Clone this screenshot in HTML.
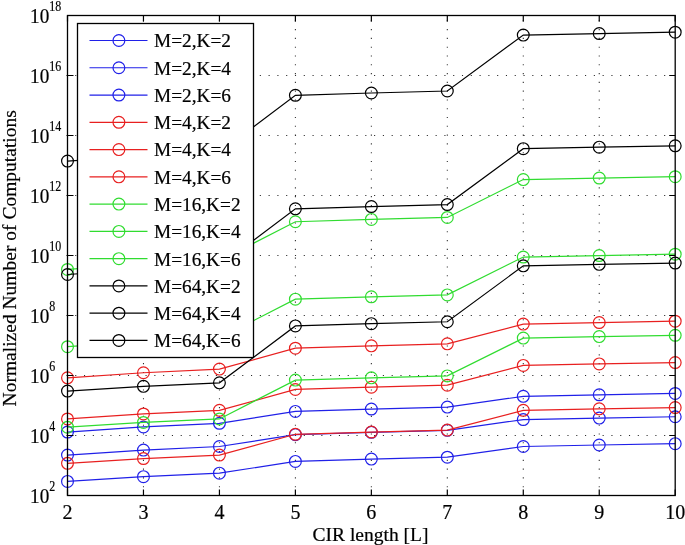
<!DOCTYPE html>
<html><head><meta charset="utf-8"><style>html,body{margin:0;padding:0;background:#fff;}svg{display:block;will-change:transform;}</style></head>
<body>
<svg width="685" height="545" viewBox="0 0 685 545">
<rect width="685" height="545" fill="#fff"/>
<path d="M143.46 496.05V15M219.43 496.05V15M295.39 496.05V15M371.35 496.05V15M447.31 496.05V15M523.28 496.05V15M599.24 496.05V15M66.41 75.5H674.7M66.41 135.5H674.7M66.41 195.5H674.7M66.41 255.5H674.7M66.41 315.5H674.7M66.41 375.5H674.7M66.41 435.5H674.7" stroke="#2a2a2a" stroke-width="1.05" stroke-dasharray="1.1 7.69" fill="none"/>
<path d="M67.50 481.39 L143.46 476.63 L219.43 473.16 L295.39 461.38 L371.35 459.12 L447.31 457.19 L523.28 446.48 L599.24 444.99 L675.20 443.66" stroke="#2020e8" stroke-width="1.2" fill="none"/>
<circle cx="67.50" cy="481.39" r="5.9" stroke="#2020e8" stroke-width="1.2" fill="none"/>
<circle cx="143.46" cy="476.63" r="5.9" stroke="#2020e8" stroke-width="1.2" fill="none"/>
<circle cx="219.43" cy="473.16" r="5.9" stroke="#2020e8" stroke-width="1.2" fill="none"/>
<circle cx="295.39" cy="461.38" r="5.9" stroke="#2020e8" stroke-width="1.2" fill="none"/>
<circle cx="371.35" cy="459.12" r="5.9" stroke="#2020e8" stroke-width="1.2" fill="none"/>
<circle cx="447.31" cy="457.19" r="5.9" stroke="#2020e8" stroke-width="1.2" fill="none"/>
<circle cx="523.28" cy="446.48" r="5.9" stroke="#2020e8" stroke-width="1.2" fill="none"/>
<circle cx="599.24" cy="444.99" r="5.9" stroke="#2020e8" stroke-width="1.2" fill="none"/>
<circle cx="675.20" cy="443.66" r="5.9" stroke="#2020e8" stroke-width="1.2" fill="none"/>
<path d="M67.50 455.09 L143.46 450.09 L219.43 446.48 L295.39 434.63 L371.35 432.31 L447.31 430.34 L523.28 419.60 L599.24 418.09 L675.20 416.73" stroke="#2020e8" stroke-width="1.2" fill="none"/>
<circle cx="67.50" cy="455.09" r="5.9" stroke="#2020e8" stroke-width="1.2" fill="none"/>
<circle cx="143.46" cy="450.09" r="5.9" stroke="#2020e8" stroke-width="1.2" fill="none"/>
<circle cx="219.43" cy="446.48" r="5.9" stroke="#2020e8" stroke-width="1.2" fill="none"/>
<circle cx="295.39" cy="434.63" r="5.9" stroke="#2020e8" stroke-width="1.2" fill="none"/>
<circle cx="371.35" cy="432.31" r="5.9" stroke="#2020e8" stroke-width="1.2" fill="none"/>
<circle cx="447.31" cy="430.34" r="5.9" stroke="#2020e8" stroke-width="1.2" fill="none"/>
<circle cx="523.28" cy="419.60" r="5.9" stroke="#2020e8" stroke-width="1.2" fill="none"/>
<circle cx="599.24" cy="418.09" r="5.9" stroke="#2020e8" stroke-width="1.2" fill="none"/>
<circle cx="675.20" cy="416.73" r="5.9" stroke="#2020e8" stroke-width="1.2" fill="none"/>
<path d="M67.50 432.03 L143.46 426.93 L219.43 423.28 L295.39 411.39 L371.35 409.06 L447.31 407.08 L523.28 396.33 L599.24 394.81 L675.20 393.45" stroke="#2020e8" stroke-width="1.2" fill="none"/>
<circle cx="67.50" cy="432.03" r="5.9" stroke="#2020e8" stroke-width="1.2" fill="none"/>
<circle cx="143.46" cy="426.93" r="5.9" stroke="#2020e8" stroke-width="1.2" fill="none"/>
<circle cx="219.43" cy="423.28" r="5.9" stroke="#2020e8" stroke-width="1.2" fill="none"/>
<circle cx="295.39" cy="411.39" r="5.9" stroke="#2020e8" stroke-width="1.2" fill="none"/>
<circle cx="371.35" cy="409.06" r="5.9" stroke="#2020e8" stroke-width="1.2" fill="none"/>
<circle cx="447.31" cy="407.08" r="5.9" stroke="#2020e8" stroke-width="1.2" fill="none"/>
<circle cx="523.28" cy="396.33" r="5.9" stroke="#2020e8" stroke-width="1.2" fill="none"/>
<circle cx="599.24" cy="394.81" r="5.9" stroke="#2020e8" stroke-width="1.2" fill="none"/>
<circle cx="675.20" cy="393.45" r="5.9" stroke="#2020e8" stroke-width="1.2" fill="none"/>
<path d="M67.50 463.33 L143.46 458.57 L219.43 455.09 L295.39 434.29 L371.35 432.03 L447.31 430.10 L523.28 410.36 L599.24 408.87 L675.20 407.53" stroke="#e82020" stroke-width="1.2" fill="none"/>
<circle cx="67.50" cy="463.33" r="5.9" stroke="#e82020" stroke-width="1.2" fill="none"/>
<circle cx="143.46" cy="458.57" r="5.9" stroke="#e82020" stroke-width="1.2" fill="none"/>
<circle cx="219.43" cy="455.09" r="5.9" stroke="#e82020" stroke-width="1.2" fill="none"/>
<circle cx="295.39" cy="434.29" r="5.9" stroke="#e82020" stroke-width="1.2" fill="none"/>
<circle cx="371.35" cy="432.03" r="5.9" stroke="#e82020" stroke-width="1.2" fill="none"/>
<circle cx="447.31" cy="430.10" r="5.9" stroke="#e82020" stroke-width="1.2" fill="none"/>
<circle cx="523.28" cy="410.36" r="5.9" stroke="#e82020" stroke-width="1.2" fill="none"/>
<circle cx="599.24" cy="408.87" r="5.9" stroke="#e82020" stroke-width="1.2" fill="none"/>
<circle cx="675.20" cy="407.53" r="5.9" stroke="#e82020" stroke-width="1.2" fill="none"/>
<path d="M67.50 418.97 L143.46 413.96 L219.43 410.36 L295.39 389.47 L371.35 387.15 L447.31 385.18 L523.28 365.41 L599.24 363.90 L675.20 362.55" stroke="#e82020" stroke-width="1.2" fill="none"/>
<circle cx="67.50" cy="418.97" r="5.9" stroke="#e82020" stroke-width="1.2" fill="none"/>
<circle cx="143.46" cy="413.96" r="5.9" stroke="#e82020" stroke-width="1.2" fill="none"/>
<circle cx="219.43" cy="410.36" r="5.9" stroke="#e82020" stroke-width="1.2" fill="none"/>
<circle cx="295.39" cy="389.47" r="5.9" stroke="#e82020" stroke-width="1.2" fill="none"/>
<circle cx="371.35" cy="387.15" r="5.9" stroke="#e82020" stroke-width="1.2" fill="none"/>
<circle cx="447.31" cy="385.18" r="5.9" stroke="#e82020" stroke-width="1.2" fill="none"/>
<circle cx="523.28" cy="365.41" r="5.9" stroke="#e82020" stroke-width="1.2" fill="none"/>
<circle cx="599.24" cy="363.90" r="5.9" stroke="#e82020" stroke-width="1.2" fill="none"/>
<circle cx="675.20" cy="362.55" r="5.9" stroke="#e82020" stroke-width="1.2" fill="none"/>
<path d="M67.50 377.84 L143.46 372.74 L219.43 369.09 L295.39 348.18 L371.35 345.84 L447.31 343.86 L523.28 324.08 L599.24 322.56 L675.20 321.20" stroke="#e82020" stroke-width="1.2" fill="none"/>
<circle cx="67.50" cy="377.84" r="5.9" stroke="#e82020" stroke-width="1.2" fill="none"/>
<circle cx="143.46" cy="372.74" r="5.9" stroke="#e82020" stroke-width="1.2" fill="none"/>
<circle cx="219.43" cy="369.09" r="5.9" stroke="#e82020" stroke-width="1.2" fill="none"/>
<circle cx="295.39" cy="348.18" r="5.9" stroke="#e82020" stroke-width="1.2" fill="none"/>
<circle cx="371.35" cy="345.84" r="5.9" stroke="#e82020" stroke-width="1.2" fill="none"/>
<circle cx="447.31" cy="343.86" r="5.9" stroke="#e82020" stroke-width="1.2" fill="none"/>
<circle cx="523.28" cy="324.08" r="5.9" stroke="#e82020" stroke-width="1.2" fill="none"/>
<circle cx="599.24" cy="322.56" r="5.9" stroke="#e82020" stroke-width="1.2" fill="none"/>
<circle cx="675.20" cy="321.20" r="5.9" stroke="#e82020" stroke-width="1.2" fill="none"/>
<path d="M67.50 427.21 L143.46 422.45 L219.43 418.97 L295.39 380.10 L371.35 377.84 L447.31 375.91 L523.28 338.11 L599.24 336.62 L675.20 335.29" stroke="#30dc30" stroke-width="1.2" fill="none"/>
<circle cx="67.50" cy="427.21" r="5.9" stroke="#30dc30" stroke-width="1.2" fill="none"/>
<circle cx="143.46" cy="422.45" r="5.9" stroke="#30dc30" stroke-width="1.2" fill="none"/>
<circle cx="219.43" cy="418.97" r="5.9" stroke="#30dc30" stroke-width="1.2" fill="none"/>
<circle cx="295.39" cy="380.10" r="5.9" stroke="#30dc30" stroke-width="1.2" fill="none"/>
<circle cx="371.35" cy="377.84" r="5.9" stroke="#30dc30" stroke-width="1.2" fill="none"/>
<circle cx="447.31" cy="375.91" r="5.9" stroke="#30dc30" stroke-width="1.2" fill="none"/>
<circle cx="523.28" cy="338.11" r="5.9" stroke="#30dc30" stroke-width="1.2" fill="none"/>
<circle cx="599.24" cy="336.62" r="5.9" stroke="#30dc30" stroke-width="1.2" fill="none"/>
<circle cx="675.20" cy="335.29" r="5.9" stroke="#30dc30" stroke-width="1.2" fill="none"/>
<path d="M67.50 346.72 L143.46 341.72 L219.43 338.11 L295.39 299.16 L371.35 296.84 L447.31 294.88 L523.28 257.04 L599.24 255.53 L675.20 254.18" stroke="#30dc30" stroke-width="1.2" fill="none"/>
<circle cx="67.50" cy="346.72" r="5.9" stroke="#30dc30" stroke-width="1.2" fill="none"/>
<circle cx="143.46" cy="341.72" r="5.9" stroke="#30dc30" stroke-width="1.2" fill="none"/>
<circle cx="219.43" cy="338.11" r="5.9" stroke="#30dc30" stroke-width="1.2" fill="none"/>
<circle cx="295.39" cy="299.16" r="5.9" stroke="#30dc30" stroke-width="1.2" fill="none"/>
<circle cx="371.35" cy="296.84" r="5.9" stroke="#30dc30" stroke-width="1.2" fill="none"/>
<circle cx="447.31" cy="294.88" r="5.9" stroke="#30dc30" stroke-width="1.2" fill="none"/>
<circle cx="523.28" cy="257.04" r="5.9" stroke="#30dc30" stroke-width="1.2" fill="none"/>
<circle cx="599.24" cy="255.53" r="5.9" stroke="#30dc30" stroke-width="1.2" fill="none"/>
<circle cx="675.20" cy="254.18" r="5.9" stroke="#30dc30" stroke-width="1.2" fill="none"/>
<path d="M67.50 269.47 L143.46 264.37 L219.43 260.72 L295.39 221.75 L371.35 219.41 L447.31 217.43 L523.28 179.58 L599.24 178.07 L675.20 176.71" stroke="#30dc30" stroke-width="1.2" fill="none"/>
<circle cx="67.50" cy="269.47" r="5.9" stroke="#30dc30" stroke-width="1.2" fill="none"/>
<circle cx="143.46" cy="264.37" r="5.9" stroke="#30dc30" stroke-width="1.2" fill="none"/>
<circle cx="219.43" cy="260.72" r="5.9" stroke="#30dc30" stroke-width="1.2" fill="none"/>
<circle cx="295.39" cy="221.75" r="5.9" stroke="#30dc30" stroke-width="1.2" fill="none"/>
<circle cx="371.35" cy="219.41" r="5.9" stroke="#30dc30" stroke-width="1.2" fill="none"/>
<circle cx="447.31" cy="217.43" r="5.9" stroke="#30dc30" stroke-width="1.2" fill="none"/>
<circle cx="523.28" cy="179.58" r="5.9" stroke="#30dc30" stroke-width="1.2" fill="none"/>
<circle cx="599.24" cy="178.07" r="5.9" stroke="#30dc30" stroke-width="1.2" fill="none"/>
<circle cx="675.20" cy="176.71" r="5.9" stroke="#30dc30" stroke-width="1.2" fill="none"/>
<path d="M67.50 391.08 L143.46 386.33 L219.43 382.85 L295.39 325.92 L371.35 323.65 L447.31 321.73 L523.28 265.86 L599.24 264.37 L675.20 263.04" stroke="#000000" stroke-width="1.2" fill="none"/>
<circle cx="67.50" cy="391.08" r="5.9" stroke="#000000" stroke-width="1.2" fill="none"/>
<circle cx="143.46" cy="386.33" r="5.9" stroke="#000000" stroke-width="1.2" fill="none"/>
<circle cx="219.43" cy="382.85" r="5.9" stroke="#000000" stroke-width="1.2" fill="none"/>
<circle cx="295.39" cy="325.92" r="5.9" stroke="#000000" stroke-width="1.2" fill="none"/>
<circle cx="371.35" cy="323.65" r="5.9" stroke="#000000" stroke-width="1.2" fill="none"/>
<circle cx="447.31" cy="321.73" r="5.9" stroke="#000000" stroke-width="1.2" fill="none"/>
<circle cx="523.28" cy="265.86" r="5.9" stroke="#000000" stroke-width="1.2" fill="none"/>
<circle cx="599.24" cy="264.37" r="5.9" stroke="#000000" stroke-width="1.2" fill="none"/>
<circle cx="675.20" cy="263.04" r="5.9" stroke="#000000" stroke-width="1.2" fill="none"/>
<path d="M67.50 274.48 L143.46 269.47 L219.43 265.86 L295.39 208.85 L371.35 206.53 L447.31 204.57 L523.28 148.67 L599.24 147.16 L675.20 145.81" stroke="#000000" stroke-width="1.2" fill="none"/>
<circle cx="67.50" cy="274.48" r="5.9" stroke="#000000" stroke-width="1.2" fill="none"/>
<circle cx="143.46" cy="269.47" r="5.9" stroke="#000000" stroke-width="1.2" fill="none"/>
<circle cx="219.43" cy="265.86" r="5.9" stroke="#000000" stroke-width="1.2" fill="none"/>
<circle cx="295.39" cy="208.85" r="5.9" stroke="#000000" stroke-width="1.2" fill="none"/>
<circle cx="371.35" cy="206.53" r="5.9" stroke="#000000" stroke-width="1.2" fill="none"/>
<circle cx="447.31" cy="204.57" r="5.9" stroke="#000000" stroke-width="1.2" fill="none"/>
<circle cx="523.28" cy="148.67" r="5.9" stroke="#000000" stroke-width="1.2" fill="none"/>
<circle cx="599.24" cy="147.16" r="5.9" stroke="#000000" stroke-width="1.2" fill="none"/>
<circle cx="675.20" cy="145.81" r="5.9" stroke="#000000" stroke-width="1.2" fill="none"/>
<path d="M67.50 161.10 L143.46 156.00 L219.43 152.35 L295.39 95.31 L371.35 92.98 L447.31 90.99 L523.28 35.09 L599.24 33.57 L675.20 32.21" stroke="#000000" stroke-width="1.2" fill="none"/>
<circle cx="67.50" cy="161.10" r="5.9" stroke="#000000" stroke-width="1.2" fill="none"/>
<circle cx="143.46" cy="156.00" r="5.9" stroke="#000000" stroke-width="1.2" fill="none"/>
<circle cx="219.43" cy="152.35" r="5.9" stroke="#000000" stroke-width="1.2" fill="none"/>
<circle cx="295.39" cy="95.31" r="5.9" stroke="#000000" stroke-width="1.2" fill="none"/>
<circle cx="371.35" cy="92.98" r="5.9" stroke="#000000" stroke-width="1.2" fill="none"/>
<circle cx="447.31" cy="90.99" r="5.9" stroke="#000000" stroke-width="1.2" fill="none"/>
<circle cx="523.28" cy="35.09" r="5.9" stroke="#000000" stroke-width="1.2" fill="none"/>
<circle cx="599.24" cy="33.57" r="5.9" stroke="#000000" stroke-width="1.2" fill="none"/>
<circle cx="675.20" cy="32.21" r="5.9" stroke="#000000" stroke-width="1.2" fill="none"/>
<rect x="67.5" y="15.5" width="607.7" height="480" stroke="#000" stroke-width="1.3" fill="none"/>
<path d="M67.5 495.5v-6M67.5 15.5v6M143.46 495.5v-6M143.46 15.5v6M219.43 495.5v-6M219.43 15.5v6M295.39 495.5v-6M295.39 15.5v6M371.35 495.5v-6M371.35 15.5v6M447.31 495.5v-6M447.31 15.5v6M523.28 495.5v-6M523.28 15.5v6M599.24 495.5v-6M599.24 15.5v6M675.2 495.5v-6M675.2 15.5v6M67.5 15.5h6M675.2 15.5h-6M67.5 75.5h6M675.2 75.5h-6M67.5 135.5h6M675.2 135.5h-6M67.5 195.5h6M675.2 195.5h-6M67.5 255.5h6M675.2 255.5h-6M67.5 315.5h6M675.2 315.5h-6M67.5 375.5h6M675.2 375.5h-6M67.5 435.5h6M675.2 435.5h-6M67.5 495.5h6M675.2 495.5h-6" stroke="#000" stroke-width="1.2" fill="none"/>
<text x="67.5" y="518.8" font-family="Liberation Serif, serif" stroke="#000" stroke-width="0.2" font-size="20" text-anchor="middle">2</text>
<text x="143.46" y="518.8" font-family="Liberation Serif, serif" stroke="#000" stroke-width="0.2" font-size="20" text-anchor="middle">3</text>
<text x="219.43" y="518.8" font-family="Liberation Serif, serif" stroke="#000" stroke-width="0.2" font-size="20" text-anchor="middle">4</text>
<text x="295.39" y="518.8" font-family="Liberation Serif, serif" stroke="#000" stroke-width="0.2" font-size="20" text-anchor="middle">5</text>
<text x="371.35" y="518.8" font-family="Liberation Serif, serif" stroke="#000" stroke-width="0.2" font-size="20" text-anchor="middle">6</text>
<text x="447.31" y="518.8" font-family="Liberation Serif, serif" stroke="#000" stroke-width="0.2" font-size="20" text-anchor="middle">7</text>
<text x="523.28" y="518.8" font-family="Liberation Serif, serif" stroke="#000" stroke-width="0.2" font-size="20" text-anchor="middle">8</text>
<text x="599.24" y="518.8" font-family="Liberation Serif, serif" stroke="#000" stroke-width="0.2" font-size="20" text-anchor="middle">9</text>
<text x="675.2" y="518.8" font-family="Liberation Serif, serif" stroke="#000" stroke-width="0.2" font-size="20" text-anchor="middle">10</text>
<text transform="translate(49.3,22.9) scale(0.96,1)" font-family="Liberation Serif, serif" stroke="#000" stroke-width="0.2" font-size="20" text-anchor="end">10</text>
<text transform="translate(49.2,10.7) scale(0.82,1)" font-family="Liberation Serif, serif" stroke="#000" stroke-width="0.2" font-size="14.6">18</text>
<text transform="translate(49.3,82.9) scale(0.96,1)" font-family="Liberation Serif, serif" stroke="#000" stroke-width="0.2" font-size="20" text-anchor="end">10</text>
<text transform="translate(49.2,70.7) scale(0.82,1)" font-family="Liberation Serif, serif" stroke="#000" stroke-width="0.2" font-size="14.6">16</text>
<text transform="translate(49.3,142.9) scale(0.96,1)" font-family="Liberation Serif, serif" stroke="#000" stroke-width="0.2" font-size="20" text-anchor="end">10</text>
<text transform="translate(49.2,130.7) scale(0.82,1)" font-family="Liberation Serif, serif" stroke="#000" stroke-width="0.2" font-size="14.6">14</text>
<text transform="translate(49.3,202.9) scale(0.96,1)" font-family="Liberation Serif, serif" stroke="#000" stroke-width="0.2" font-size="20" text-anchor="end">10</text>
<text transform="translate(49.2,190.7) scale(0.82,1)" font-family="Liberation Serif, serif" stroke="#000" stroke-width="0.2" font-size="14.6">12</text>
<text transform="translate(49.3,262.9) scale(0.96,1)" font-family="Liberation Serif, serif" stroke="#000" stroke-width="0.2" font-size="20" text-anchor="end">10</text>
<text transform="translate(49.2,250.7) scale(0.82,1)" font-family="Liberation Serif, serif" stroke="#000" stroke-width="0.2" font-size="14.6">10</text>
<text transform="translate(49.3,322.9) scale(0.96,1)" font-family="Liberation Serif, serif" stroke="#000" stroke-width="0.2" font-size="20" text-anchor="end">10</text>
<text transform="translate(49.2,310.7) scale(0.82,1)" font-family="Liberation Serif, serif" stroke="#000" stroke-width="0.2" font-size="14.6">8</text>
<text transform="translate(49.3,382.9) scale(0.96,1)" font-family="Liberation Serif, serif" stroke="#000" stroke-width="0.2" font-size="20" text-anchor="end">10</text>
<text transform="translate(49.2,370.7) scale(0.82,1)" font-family="Liberation Serif, serif" stroke="#000" stroke-width="0.2" font-size="14.6">6</text>
<text transform="translate(49.3,442.9) scale(0.96,1)" font-family="Liberation Serif, serif" stroke="#000" stroke-width="0.2" font-size="20" text-anchor="end">10</text>
<text transform="translate(49.2,430.7) scale(0.82,1)" font-family="Liberation Serif, serif" stroke="#000" stroke-width="0.2" font-size="14.6">4</text>
<text transform="translate(49.3,502.9) scale(0.96,1)" font-family="Liberation Serif, serif" stroke="#000" stroke-width="0.2" font-size="20" text-anchor="end">10</text>
<text transform="translate(49.2,490.7) scale(0.82,1)" font-family="Liberation Serif, serif" stroke="#000" stroke-width="0.2" font-size="14.6">2</text>
<text x="370.5" y="541.2" font-family="Liberation Serif, serif" stroke="#000" stroke-width="0.2" font-size="19.5" text-anchor="middle">CIR length [L]</text>
<text transform="translate(16,258.3) rotate(-90)" font-family="Liberation Serif, serif" stroke="#000" stroke-width="0.2" font-size="19.5" text-anchor="middle">Normalized Number of Computations</text>
<rect x="77.5" y="23.5" width="176" height="334" stroke="#000" stroke-width="1.3" fill="#fff"/>
<path d="M89.5 40.50H147.5" stroke="#2020e8" stroke-width="1.2"/>
<circle cx="118.9" cy="40.50" r="5.9" stroke="#2020e8" stroke-width="1.2" fill="none"/>
<text x="154.0" y="47.40" font-family="Liberation Serif, serif" stroke="#000" stroke-width="0.2" font-size="19.3">M=2,K=2</text>
<path d="M89.5 67.77H147.5" stroke="#2020e8" stroke-width="1.2"/>
<circle cx="118.9" cy="67.77" r="5.9" stroke="#2020e8" stroke-width="1.2" fill="none"/>
<text x="154.0" y="74.67" font-family="Liberation Serif, serif" stroke="#000" stroke-width="0.2" font-size="19.3">M=2,K=4</text>
<path d="M89.5 95.04H147.5" stroke="#2020e8" stroke-width="1.2"/>
<circle cx="118.9" cy="95.04" r="5.9" stroke="#2020e8" stroke-width="1.2" fill="none"/>
<text x="154.0" y="101.94" font-family="Liberation Serif, serif" stroke="#000" stroke-width="0.2" font-size="19.3">M=2,K=6</text>
<path d="M89.5 122.31H147.5" stroke="#e82020" stroke-width="1.2"/>
<circle cx="118.9" cy="122.31" r="5.9" stroke="#e82020" stroke-width="1.2" fill="none"/>
<text x="154.0" y="129.21" font-family="Liberation Serif, serif" stroke="#000" stroke-width="0.2" font-size="19.3">M=4,K=2</text>
<path d="M89.5 149.58H147.5" stroke="#e82020" stroke-width="1.2"/>
<circle cx="118.9" cy="149.58" r="5.9" stroke="#e82020" stroke-width="1.2" fill="none"/>
<text x="154.0" y="156.48" font-family="Liberation Serif, serif" stroke="#000" stroke-width="0.2" font-size="19.3">M=4,K=4</text>
<path d="M89.5 176.85H147.5" stroke="#e82020" stroke-width="1.2"/>
<circle cx="118.9" cy="176.85" r="5.9" stroke="#e82020" stroke-width="1.2" fill="none"/>
<text x="154.0" y="183.75" font-family="Liberation Serif, serif" stroke="#000" stroke-width="0.2" font-size="19.3">M=4,K=6</text>
<path d="M89.5 204.12H147.5" stroke="#30dc30" stroke-width="1.2"/>
<circle cx="118.9" cy="204.12" r="5.9" stroke="#30dc30" stroke-width="1.2" fill="none"/>
<text x="154.0" y="211.02" font-family="Liberation Serif, serif" stroke="#000" stroke-width="0.2" font-size="19.3">M=16,K=2</text>
<path d="M89.5 231.39H147.5" stroke="#30dc30" stroke-width="1.2"/>
<circle cx="118.9" cy="231.39" r="5.9" stroke="#30dc30" stroke-width="1.2" fill="none"/>
<text x="154.0" y="238.29" font-family="Liberation Serif, serif" stroke="#000" stroke-width="0.2" font-size="19.3">M=16,K=4</text>
<path d="M89.5 258.66H147.5" stroke="#30dc30" stroke-width="1.2"/>
<circle cx="118.9" cy="258.66" r="5.9" stroke="#30dc30" stroke-width="1.2" fill="none"/>
<text x="154.0" y="265.56" font-family="Liberation Serif, serif" stroke="#000" stroke-width="0.2" font-size="19.3">M=16,K=6</text>
<path d="M89.5 285.93H147.5" stroke="#000000" stroke-width="1.2"/>
<circle cx="118.9" cy="285.93" r="5.9" stroke="#000000" stroke-width="1.2" fill="none"/>
<text x="154.0" y="292.83" font-family="Liberation Serif, serif" stroke="#000" stroke-width="0.2" font-size="19.3">M=64,K=2</text>
<path d="M89.5 313.20H147.5" stroke="#000000" stroke-width="1.2"/>
<circle cx="118.9" cy="313.20" r="5.9" stroke="#000000" stroke-width="1.2" fill="none"/>
<text x="154.0" y="320.10" font-family="Liberation Serif, serif" stroke="#000" stroke-width="0.2" font-size="19.3">M=64,K=4</text>
<path d="M89.5 340.47H147.5" stroke="#000000" stroke-width="1.2"/>
<circle cx="118.9" cy="340.47" r="5.9" stroke="#000000" stroke-width="1.2" fill="none"/>
<text x="154.0" y="347.37" font-family="Liberation Serif, serif" stroke="#000" stroke-width="0.2" font-size="19.3">M=64,K=6</text>
</svg>
</body></html>
